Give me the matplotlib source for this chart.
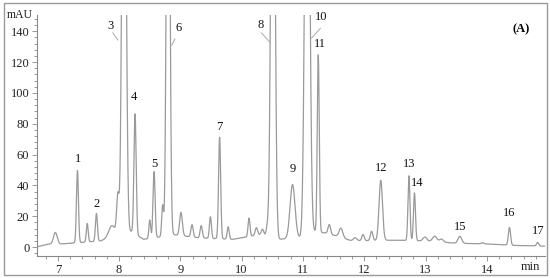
import numpy as np
import matplotlib
matplotlib.use('Agg')
import matplotlib.pyplot as plt
from matplotlib.ticker import MultipleLocator
from matplotlib.patches import Rectangle

# peak table: retention time (min), height (mAU), width (sigma, min)
rt = [6.96, 7.32, 7.48, 7.63, 7.88, 7.98, 8.08, 8.26, 8.50, 8.57, 8.71, 8.80, 9.01, 9.19, 9.34,
      9.49, 9.64, 9.78, 10.12, 10.24, 10.34, 10.42, 10.51, 10.83, 11.07, 11.25, 11.43, 11.62,
      11.85, 11.98, 12.12, 12.27, 12.73, 12.82, 12.99, 13.15, 13.26, 13.56, 13.93, 14.37, 14.83]
height = [7.5, 47, 12, 18, 7, 25, 400, 78, 12, 43, 20, 400, 15, 8, 8,
          14, 66, 8, 12, 5, 4, 6, 400, 35, 400, 115, 6, 6,
          2, 4, 6, 39, 42, 31, 2.5, 3.5, 2, 4.5, 0.8, 11.5, 2.3]
width = [0.03, 0.016, 0.015, 0.016, 0.05, 0.02, 0.03, 0.018, 0.014, 0.017, 0.015, 0.025, 0.022, 0.018, 0.018,
         0.016, 0.017, 0.016, 0.016, 0.02, 0.02, 0.02, 0.03, 0.04, 0.035, 0.016, 0.02, 0.03,
         0.03, 0.02, 0.02, 0.028, 0.016, 0.016, 0.03, 0.035, 0.03, 0.03, 0.02, 0.018, 0.018]

# baseline level (mAU) at a few times
base_t = [6.66, 6.85, 7.05, 7.7, 7.95, 8.2, 8.4, 8.9, 9.3, 9.85, 10.3, 10.6, 10.95, 11.2, 11.4, 11.8, 12.5, 13.0, 13.5, 14.0, 14.5, 14.95]
base_v = [0.2, 2.0, 2.0, 4.0, 8.0, 10.0, 5.0, 8.0, 6.0, 5.0, 8.0, 5.0, 6.0, 10.0, 9.0, 4.0, 4.5, 4.0, 2.5, 2.0, 1.0, 0.6]

labels = ['1', '2', '3', '4', '5', '6', '7', '8', '9', '10', '11', '12', '13', '14', '15', '16', '17']
# label centres (min, mAU)
lab_t = [7.33, 7.64, 7.865, 8.24, 8.57, 8.975, 9.643, 10.31, 10.83, 11.30, 11.27, 12.27, 12.73, 12.86, 13.56, 14.37, 14.835]
lab_v = [57, 28, 143.5, 97.4, 54, 142.2, 78, 144.2, 50.4, 149.4, 131.8, 51.5, 53.7, 41.4, 13.2, 21.9, 10.6]

t = np.linspace(6.66, 14.95, 4000)
y = np.interp(t, base_t, base_v)
for r, h, w in zip(rt, height, width):
    y = y + h * np.exp(-0.5 * ((t - r) / w) ** 2)

plt.rcParams['font.family'] = 'Liberation Serif'
fig = plt.figure(figsize=(5.5, 2.78), dpi=100)
ax = fig.add_axes([37 / 550, 1 - 256 / 278, 508 / 550, 241 / 278])
ax.plot(t, y, color='#9a9a9a', lw=0.9)
ax.set_xlim(6.66, 14.95)
ax.set_ylim(-5.8, 150.6)

ax.spines['top'].set_visible(False)
ax.spines['right'].set_visible(False)
for s in ['left', 'bottom']:
    ax.spines[s].set_color('#888888')
    ax.spines[s].set_linewidth(0.8)
ax.xaxis.set_major_locator(MultipleLocator(1))
ax.xaxis.set_minor_locator(MultipleLocator(0.2))
ax.yaxis.set_major_locator(MultipleLocator(20))
ax.yaxis.set_minor_locator(MultipleLocator(4))
ax.tick_params(which='both', colors='#888888', labelcolor='#222222', labelsize=9, width=0.6)
ax.tick_params(which='major', length=3.5, pad=2)
ax.tick_params(which='minor', length=2)
ax.set_yticks([0, 20, 40, 60, 80, 100, 120, 140])

for lab, px, py in zip(labels, lab_t, lab_v):
    ax.text(px, py, lab, ha='center', va='center', fontsize=9, color='#111111', clip_on=False)

# leader lines for off-scale peaks
ax.plot([7.897, 7.979], [139, 134.4], color='#aaaaaa', lw=0.7)
ax.plot([8.909, 8.86], [135, 131], color='#aaaaaa', lw=0.7)
ax.plot([10.323, 10.47], [139, 132.5], color='#aaaaaa', lw=0.7)
ax.plot([11.286, 11.14], [142, 135.7], color='#aaaaaa', lw=0.7)

ax.text(0.970, 0.967, '(A)', transform=ax.transAxes, ha='right', va='top', fontsize=9, fontweight='bold')
ax.text(-0.008, 1.0, 'mAU', transform=ax.transAxes, ha='right', va='center', fontsize=8.5, color='#222222')
fig.text(530 / 550, 1 - 267 / 278, 'min', ha='center', va='center', fontsize=9, color='#222222')

fig.patches.append(Rectangle((4 / 550, 3 / 278), 543 / 550, 272 / 278, transform=fig.transFigure,
                             fill=False, edgecolor='#999999', lw=1.0))

fig.savefig('out.png', dpi=100)
